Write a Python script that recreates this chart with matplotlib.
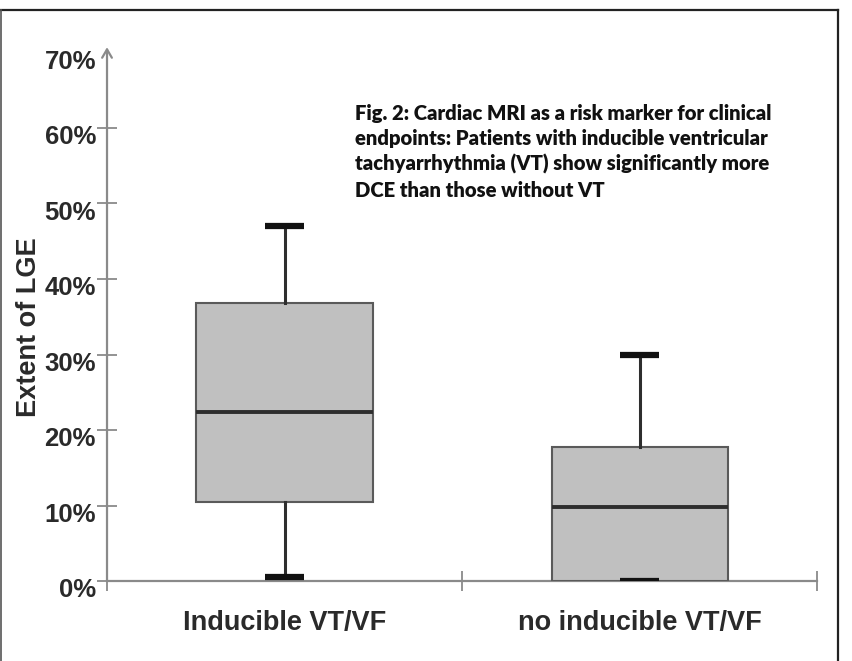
import matplotlib
matplotlib.use('Agg')
import matplotlib.pyplot as plt
import matplotlib.transforms as mtransforms
from matplotlib.lines import Line2D

# box plot values (% LGE)
groups = ['Inducible VT/VF', 'no inducible VT/VF']
whisker_low = [0.5, 0.0]
q1 = [10.5, 0.0]
median = [22.4, 9.8]
q3 = [36.8, 17.8]
whisker_high = [47.0, 30.0]
yticks = [0, 10, 20, 30, 40, 50, 60, 70]

caption = ('Fig. 2: Cardiac MRI as a risk marker for clinical\n'
           'endpoints: Patients with inducible ventricular\n'
           'tachyarrhythmia (VT) show significantly more\n'
           'DCE than those without VT')

plt.rcParams['font.family'] = ['Liberation Sans', 'DejaVu Sans']

fig = plt.figure(figsize=(8.52, 6.61), dpi=100)
ax = fig.add_axes([0.1256, 0.121, 0.8334, 0.7996])

stats = []
for i in range(len(groups)):
    stats.append({'whislo': whisker_low[i], 'q1': q1[i], 'med': median[i],
                  'q3': q3[i], 'whishi': whisker_high[i], 'label': groups[i]})

ax.bxp(stats, positions=[1, 2], widths=0.496, showfliers=False,
       patch_artist=True, capwidths=0.11,
       boxprops=dict(facecolor='#c0c0c0', edgecolor='#5a5a5a', linewidth=1.5),
       medianprops=dict(color='#2e2e2e', linewidth=2.8),
       whiskerprops=dict(color='#2e2e2e', linewidth=2.2),
       capprops=dict(color='#111111', linewidth=4.5, solid_capstyle='butt'))

ax.set_xlim(0.5, 2.5)
ax.set_ylim(0, 70)

for s in ['top', 'right', 'left']:
    ax.spines[s].set_visible(False)
ax.spines['bottom'].set_color('#8a8a8a')
ax.spines['bottom'].set_linewidth(1.6)
ax.spines['bottom'].set_zorder(0)

# y axis with open arrow head
ax.annotate('', xy=(0.5, 70.7), xytext=(0.5, 0), xycoords='data',
            arrowprops=dict(arrowstyle='->,head_length=0.6,head_width=0.35',
                            color='#8a8a8a', lw=1.6, shrinkA=0, shrinkB=0),
            annotation_clip=False)

ax.set_yticks(yticks)
ax.set_yticklabels([f'{v}%' for v in yticks], fontsize=18.5, fontweight='bold',
                   color='#2a2a2a')
ax.tick_params(axis='y', direction='inout', length=14, width=1.3,
               color='#8a8a8a', pad=3)
ax.yaxis.get_major_ticks()[-1].tick1line.set_visible(False)
# labels sit a little below their ticks in the original
shift = mtransforms.ScaledTranslation(2 / 72, -5 / 72, fig.dpi_scale_trans)
for lbl in ax.get_yticklabels():
    lbl.set_transform(lbl.get_transform() + shift)

ax.set_xticks([1, 2])
ax.set_xticklabels(groups, fontsize=19.5, fontweight='bold', color='#2a2a2a')
ax.tick_params(axis='x', which='major', length=0, pad=21)
ax.set_xticks([0.5, 1.5, 2.5], minor=True)
ax.tick_params(axis='x', which='minor', direction='inout', length=14,
               width=1.3, color='#8a8a8a')

ax.set_ylabel('Extent of LGE', fontsize=19.5, fontweight='bold',
              color='#2a2a2a')
ax.yaxis.set_label_coords(-0.092, 0.48)

fig.text(355 / 852, 1 - 104 / 661, caption, ha='left', va='top',
         fontsize=14.6, fontweight='heavy', color='#111111',
         family=['Lato', 'DejaVu Sans'], linespacing=1.38)

# frame around the figure
fig.add_artist(Line2D([0.001, 0.984], [1 - 10 / 661, 1 - 10 / 661],
                      color='#222222', lw=1.6))
fig.add_artist(Line2D([0.0015, 0.0015], [0, 1 - 10 / 661],
                      color='#555555', lw=1.2))
fig.add_artist(Line2D([838 / 852, 838 / 852], [0, 1 - 10 / 661],
                      color='#222222', lw=1.6))

fig.savefig('out.png', dpi=100)
